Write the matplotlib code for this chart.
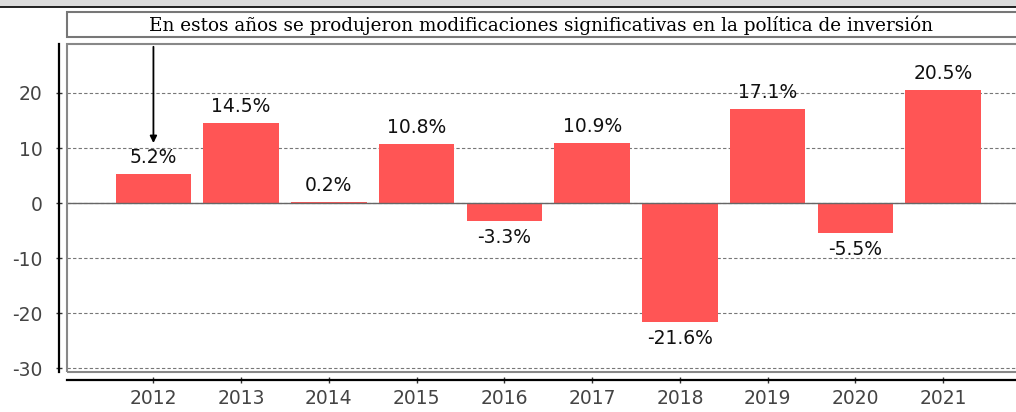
import matplotlib
matplotlib.use("Agg")
import matplotlib.pyplot as plt
from matplotlib.patches import Rectangle
from matplotlib.lines import Line2D

plt.rcParams["axes.unicode_minus"] = False

years = [2012, 2013, 2014, 2015, 2016, 2017, 2018, 2019, 2020, 2021]
values = [5.2, 14.5, 0.2, 10.8, -3.3, 10.9, -21.6, 17.1, -5.5, 20.5]
yticks = [-30, -20, -10, 0, 10, 20]
title = "En estos años se produjeron modificaciones significativas en la política de inversión"
arrow_year = 2012

W, H = 1016, 412
fig = plt.figure(figsize=(W/100, H/100), dpi=100)

def fx(px): return px / W
def fy(py): return 1 - py / H

# top gray band
fig.patches.append(Rectangle((0, fy(6)), 1, 6/H, transform=fig.transFigure, color="#dcdcdc", zorder=0))
fig.lines.append(Line2D([0, 1], [fy(6.5), fy(6.5)], transform=fig.transFigure, color="black", lw=1.2))

# title box
fig.patches.append(Rectangle((fx(67), fy(37)), fx(1030-67), 25/H, transform=fig.transFigure,
                             facecolor="white", edgecolor="#777777", lw=1.5, zorder=1))
fig.text(fx(541), fy(25), title, ha="center", va="center", fontsize=13.2,
         family="DejaVu Serif", color="black")

ax = fig.add_axes([fx(67), fy(372), fx(1030-67), (372-44)/H])
xs = list(range(len(years)))
ax.bar(xs, values, width=0.86, color="#ff5555", zorder=3)
ax.axhline(0, color="#666666", lw=1, zorder=4)
ax.set_xlim(-0.985, 9.99)
ax.set_ylim(-30.7, 28.9)
ax.set_yticks(yticks)
ax.yaxis.grid(True, linestyle=(0, (3, 2)), color="#777777", lw=0.8)
ax.set_axisbelow(True)
ax.set_xticks(xs)
ax.set_xticklabels([str(y) for y in years])
for s in ["top", "right"]:
    ax.spines[s].set_visible(False)
ax.spines["left"].set_position(("outward", 6))
ax.spines["bottom"].set_position(("outward", 6))
ax.spines["left"].set_linewidth(1.6)
ax.spines["bottom"].set_linewidth(1.6)
ax.tick_params(axis="both", labelsize=13.5, colors="#333333", width=1)
ax.tick_params(axis="x", direction="inout", length=5, pad=4)
ax.tick_params(axis="y", direction="inout", length=5, pad=9)
for lab in ax.get_xticklabels() + ax.get_yticklabels():
    lab.set_color("#444444")
ax.add_patch(Rectangle((0, 0), 1, 1, transform=ax.transAxes, fill=False,
                       edgecolor="#888888", lw=1.5, clip_on=False, zorder=5))

for x, v in zip(xs, values):
    if v >= 0:
        ax.annotate(f"{v}%", (x, v), xytext=(0, 5), textcoords="offset points",
                    ha="center", va="bottom", fontsize=13.5, family="DejaVu Sans",
                    color="#111111")
    else:
        ax.annotate(f"{v}%", (x, v), xytext=(0, -5), textcoords="offset points",
                    ha="center", va="top", fontsize=13.5, family="DejaVu Sans",
                    color="#111111")

ai = years.index(arrow_year)
ax.annotate("", xy=(ai, values[ai] + 5.2), xytext=(ai, 28.9),
            arrowprops=dict(arrowstyle="-|>", color="black", lw=1.3, mutation_scale=10),
            zorder=6)

fig.savefig("out.png", dpi=100)
